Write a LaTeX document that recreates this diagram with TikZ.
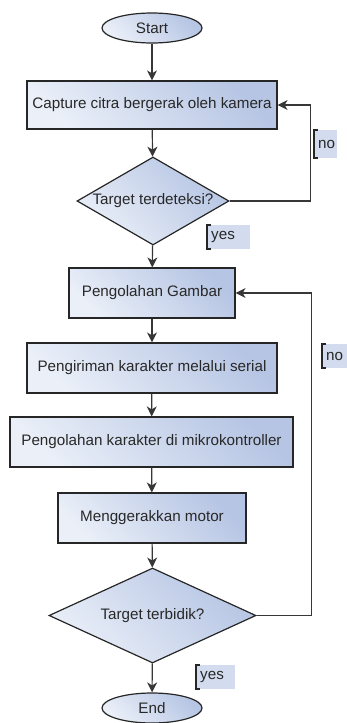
\documentclass[tikz,border=0pt]{standalone}
\usepackage{fontspec}
\setmainfont{Liberation Sans}
\usetikzlibrary{shapes.geometric,arrows.meta,calc}
\definecolor{shL}{RGB}{234,239,248}
\definecolor{shR}{RGB}{182,197,228}
\definecolor{lblfill}{RGB}{210,220,238}
\definecolor{txt}{RGB}{40,40,40}
\definecolor{edge}{RGB}{55,55,55}
\begin{document}
\begin{tikzpicture}[x=1pt,y=-1pt,
  font=\fontsize{15.2}{18}\selectfont,
  shapebase/.style={draw=black!85, line width=1.2pt, top color=shL, bottom color=shR, shading angle=135, text=txt, inner sep=0pt},
  boxnode/.style={shapebase, rectangle, minimum height=50pt},
  termnode/.style={shapebase, ellipse, minimum width=100pt, minimum height=30pt},
  decnode/.style={shapebase, diamond},
  dectext/.style={text=txt, inner sep=0pt},
  arr/.style={draw=edge, line width=1.2pt, -{Stealth[length=10pt,width=10pt,inset=3pt]}},
  lbl/.style={fill=lblfill, text=txt, inner xsep=4pt, inner ysep=0pt, minimum height=24pt, anchor=west, align=left},
  brk/.style={draw=black!85, line width=2.4pt}
]
\useasboundingbox (0,0) rectangle (347,723);

\node[termnode] (start) at (152,28) {Start};
\node[boxnode, minimum width=250pt, minimum height=48pt] (cap) at (152,105) {Capture citra bergerak oleh kamera};
\node[decnode, minimum width=152pt, minimum height=88pt] (d1) at (153,201) {};
\node[dectext] (d1t) at (d1.center) {Target terdeteksi?};
\node[boxnode, minimum width=166pt] (peng) at (152,293) {Pengolahan Gambar};
\node[boxnode, minimum width=250pt] (kirim) at (152,368) {Pengiriman karakter melalui serial};
\node[boxnode, minimum width=283pt] (mikro) at (151.5,442) {Pengolahan karakter di mikrokontroller};
\node[boxnode, minimum width=188pt] (motor) at (152,518) {Menggerakkan motor};
\node[decnode, minimum width=207pt, minimum height=95pt] (d2) at (152.5,615.5) {};
\node[dectext] (d2t) at (d2.center) {Target terbidik?};
\node[termnode] (end) at (152,708) {End};

\draw[arr] (start) -- (cap);
\draw[arr] (cap) -- (d1);
\draw[arr] (d1) -- (peng);
\draw[arr] (peng) -- (kirim);
\draw[arr] (kirim) -- (mikro);
\draw[arr] (mikro) -- (motor);
\draw[arr] (motor) -- (d2);
\draw[arr] (d2) -- (end);

\coordinate (c1) at ([xshift=33pt]cap.east);
\draw[arr] (d1.east) -- (d1.east -| c1) -- (c1) -- (cap.east);
\coordinate (c2) at ([xshift=76pt]peng.east);
\draw[arr] (d2.east) -- (d2.east -| c2) -- (c2) -- (peng.east);

\node[lbl, minimum height=28pt, text width=15pt] (no1) at (314,144) {no};
\draw[brk] ([xshift=3.5pt]no1.north west) -- (no1.north west) -- (no1.south west) -- ([xshift=3.5pt]no1.south west);
\node[lbl, text width=35pt] (yes1) at (207,237) {yes};
\draw[brk] ([xshift=3.5pt]yes1.north west) -- (yes1.north west) -- (yes1.south west) -- ([xshift=3.5pt]yes1.south west);
\node[lbl, text width=20pt] (no2) at (322,356) {no};
\draw[brk] ([xshift=3.5pt]no2.north west) -- (no2.north west) -- (no2.south west) -- ([xshift=3.5pt]no2.south west);
\node[lbl, text width=31pt] (yes2) at (196,677) {yes};
\draw[brk] ([xshift=3.5pt]yes2.north west) -- (yes2.north west) -- (yes2.south west) -- ([xshift=3.5pt]yes2.south west);
\end{tikzpicture}
\end{document}
